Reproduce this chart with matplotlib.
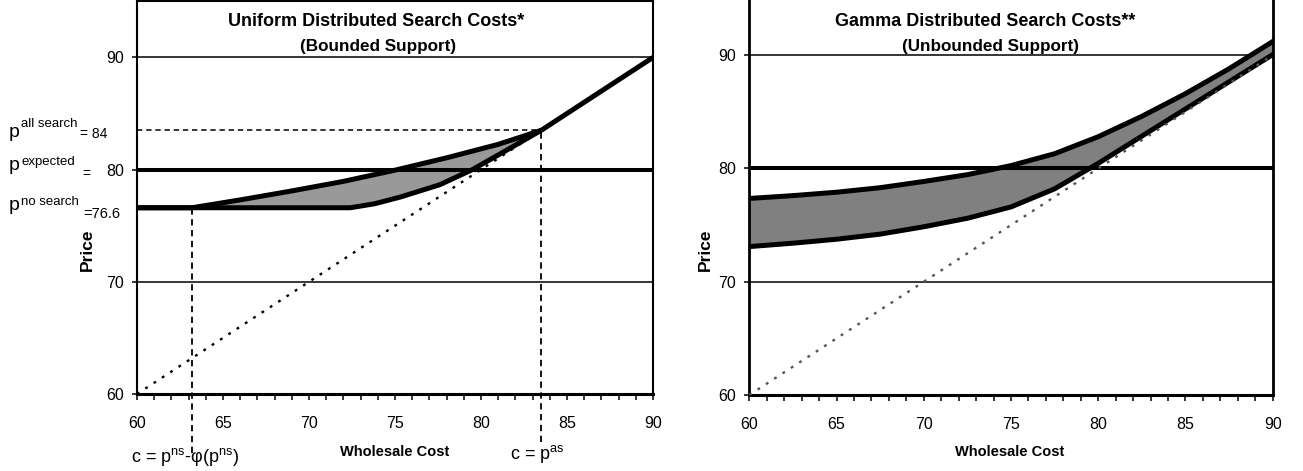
"""
Preis vs. Großhandelskosten: gleichverteilte und gammaverteilte Suchkosten
"""

import matplotlib

matplotlib.use("Agg")
import matplotlib.pyplot as plt
from matplotlib.ticker import MultipleLocator

# --- Daten ---
# Links: gleichverteilte Suchkosten
uni_upper_cost = [60, 63.2, 66, 69, 72, 75, 78, 81, 83.5]
uni_upper_price = [76.6, 76.6, 77.3, 78.1, 78.95, 79.95, 81.05, 82.25, 83.5]
uni_lower_cost = [60, 72.4, 73.8, 75.3, 77.6, 79.5, 81.4, 83.5]
uni_lower_price = [76.6, 76.6, 76.95, 77.55, 78.65, 80.0, 81.65, 83.5]
uni_tail_cost = [83.5, 90]
uni_tail_price = [83.5, 90]
p_all_search = 83.5
p_expected = 80
p_no_search = 76.6
c_ns = 63.2
c_as = 83.5

# Rechts: gammaverteilte Suchkosten
gam_cost = [60, 62.5, 65, 67.5, 70, 72.5, 75, 77.5, 80, 82.5, 85, 87.5, 90]
gam_upper = [77.35, 77.6, 77.9, 78.3, 78.85, 79.45, 80.25, 81.3, 82.8, 84.6, 86.6, 88.8, 91.2]
gam_lower = [73.1, 73.4, 73.75, 74.2, 74.85, 75.6, 76.6, 78.2, 80.45, 82.85, 85.25, 87.65, 90.05]

diag = [60, 90]
x_ticks = [60, 65, 70, 75, 80, 85, 90]
y_ticks = [60, 70, 80, 90]

W, H = 1303, 471
plt.rcParams["font.family"] = ["Liberation Sans", "DejaVu Sans"]
plt.rcParams["mathtext.fontset"] = "custom"
plt.rcParams["mathtext.rm"] = "Liberation Sans"
plt.rcParams["mathtext.it"] = "Liberation Sans"

fig = plt.figure(figsize=(W / 100, H / 100), dpi=100)


def px(x, y):
    """Pixelkoordinaten -> Figure-Koordinaten."""
    return x / W, 1 - y / H


def setup_axes(ax, spine_lw):
    ax.set_xlim(60, 90)
    ax.set_ylim(60, 95)
    ax.xaxis.set_major_locator(MultipleLocator(5))
    ax.xaxis.set_minor_locator(MultipleLocator(1))
    ax.set_xticks(x_ticks)
    ax.set_yticks(y_ticks)
    ax.tick_params(axis="x", which="both", direction="out", length=4, width=1.1,
                   labelsize=11.5, pad=12)
    ax.tick_params(axis="y", direction="out", length=3.6, width=1.1,
                   labelsize=11.5, pad=6)
    for name, lw in spine_lw.items():
        ax.spines[name].set_linewidth(lw)
    for y in [70, 90]:
        ax.axhline(y, color="black", lw=1.1, zorder=1)
    ax.axhline(p_expected, color="black", lw=2.9, zorder=3)


# --- Links ---
ax1 = fig.add_axes([137 / W, 1 - 394 / H, 516 / W, 392.7 / H])
setup_axes(ax1, {"left": 1.5, "bottom": 2.2, "right": 1.5, "top": 1.5})
ax1.plot([60, c_as], [60, c_as], color="black", lw=1.7, ls=(0, (1.2, 3.0)), zorder=1.5)

# Fläche zwischen oberer und unterer Kurve
poly_x = list(uni_upper_cost) + list(uni_lower_cost[::-1])
poly_y = list(uni_upper_price) + list(uni_lower_price[::-1])
ax1.fill(poly_x, poly_y, color="#999999", lw=0, zorder=2)
for cx, cy in [(uni_upper_cost, uni_upper_price), (uni_lower_cost, uni_lower_price),
               (uni_tail_cost, uni_tail_price)]:
    ax1.plot(cx, cy, color="black", lw=3.6, solid_capstyle="butt",
             solid_joinstyle="round", zorder=4)

dash = (0, (3.5, 2.5))
ax1.plot([60, c_as], [p_all_search, p_all_search], color="black", lw=1.1, ls=dash, zorder=1.5)
ax1.plot([c_as, c_as], [55.7, p_all_search], color="black", lw=1.3, ls=dash,
         clip_on=False, zorder=1.5)
ax1.plot([c_ns, c_ns], [54.7, p_no_search], color="black", lw=1.3, ls=dash,
         clip_on=False, zorder=1.5)

# --- Rechts ---
ax2 = fig.add_axes([749.3 / W, 1 - 395 / H, 523.4 / W, 396.5 / H])
setup_axes(ax2, {"left": 2.0, "bottom": 2.2, "right": 2.0})
ax2.spines["top"].set_visible(False)
ax2.fill_between(gam_cost, gam_lower, gam_upper, color="#808080", lw=0, zorder=2)
ax2.plot(gam_cost, gam_upper, color="black", lw=3.6, zorder=4)
ax2.plot(gam_cost, gam_lower, color="black", lw=3.6, zorder=4)
ax2.plot(diag, diag, color="#555555", lw=1.7, ls=(0, (1.2, 3.0)), zorder=5)

# --- Texte ---
bold = dict(fontweight="bold", ha="center", va="center")
fig.text(*px(376, 21), "Uniform Distributed Search Costs*", fontsize=13, **bold)
fig.text(*px(378, 47), "(Bounded Support)", fontsize=12.3, **bold)
fig.text(*px(985, 21), "Gamma Distributed Search Costs**", fontsize=13, **bold)
fig.text(*px(990, 47), "(Unbounded Support)", fontsize=12.3, **bold)

fig.text(*px(395, 452), "Wholesale Cost", fontsize=10.5, **bold)
fig.text(*px(1010, 452), "Wholesale Cost", fontsize=10.5, **bold)
fig.text(*px(87, 250), "Price", fontsize=12.5, rotation=90, **bold)
fig.text(*px(705, 250), "Price", fontsize=12.5, rotation=90, **bold)

# Preisniveaus links neben der Achse
rows = [
    (137, "all search", 126.7, "= 84", 138, 80, 10),
    (170.5, "expected", 165, "=", 178, 82, 10),
    (210.5, "no search", 205, "=76.6", 218, 83, 10.5),
]
for p_base, sup, sup_base, rhs, rhs_base, rhs_x, rhs_size in rows:
    fig.text(*px(9, p_base), "p", fontsize=14, va="baseline")
    fig.text(*px(21, sup_base), sup, fontsize=9.5, va="baseline")
    fig.text(*px(rhs_x, rhs_base), rhs, fontsize=rhs_size, va="baseline")

fig.text(*px(131, 462), r"c = p$^{\mathrm{ns}}$-φ(p$^{\mathrm{ns}}$)", fontsize=13,
         va="baseline")
fig.text(*px(510, 459), r"c = p$^{\mathrm{as}}$", fontsize=13, va="baseline")

fig.savefig("out.png", dpi=100)
